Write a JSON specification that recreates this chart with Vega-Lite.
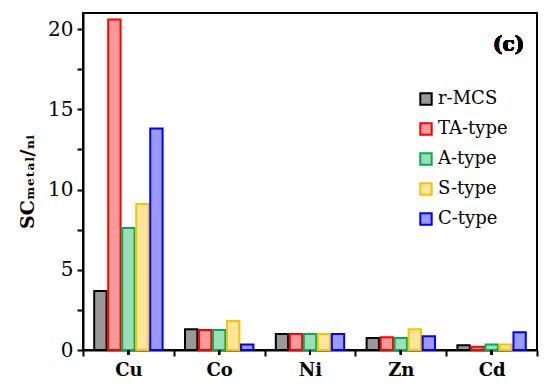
{
  "$schema": "https://vega.github.io/schema/vega-lite/v6.json",
  "width": 454,
  "height": 337,
  "autosize": {"type": "none"},
  "padding": {"left": 83, "top": 13, "right": 13, "bottom": 41},
  "background": "white",
  "config": {
    "view": {"stroke": "black", "strokeWidth": 2},
    "font": "DejaVu Serif"
  },
  "data": {
    "values": [
      {"metal": "Cu", "type": "r-MCS", "sc": 3.68},
      {"metal": "Cu", "type": "TA-type", "sc": 20.6},
      {"metal": "Cu", "type": "A-type", "sc": 7.6},
      {"metal": "Cu", "type": "S-type", "sc": 9.1},
      {"metal": "Cu", "type": "C-type", "sc": 13.8},
      {"metal": "Co", "type": "r-MCS", "sc": 1.3},
      {"metal": "Co", "type": "TA-type", "sc": 1.25},
      {"metal": "Co", "type": "A-type", "sc": 1.25},
      {"metal": "Co", "type": "S-type", "sc": 1.8},
      {"metal": "Co", "type": "C-type", "sc": 0.35},
      {"metal": "Ni", "type": "r-MCS", "sc": 1.0},
      {"metal": "Ni", "type": "TA-type", "sc": 1.0},
      {"metal": "Ni", "type": "A-type", "sc": 1.0},
      {"metal": "Ni", "type": "S-type", "sc": 1.0},
      {"metal": "Ni", "type": "C-type", "sc": 1.0},
      {"metal": "Zn", "type": "r-MCS", "sc": 0.75},
      {"metal": "Zn", "type": "TA-type", "sc": 0.8},
      {"metal": "Zn", "type": "A-type", "sc": 0.75},
      {"metal": "Zn", "type": "S-type", "sc": 1.3},
      {"metal": "Zn", "type": "C-type", "sc": 0.85},
      {"metal": "Cd", "type": "r-MCS", "sc": 0.3},
      {"metal": "Cd", "type": "TA-type", "sc": 0.2},
      {"metal": "Cd", "type": "A-type", "sc": 0.35},
      {"metal": "Cd", "type": "S-type", "sc": 0.35},
      {"metal": "Cd", "type": "C-type", "sc": 1.1}
    ]
  },
  "layer": [
    {
      "mark": {"type": "bar", "fillOpacity": 0.4, "strokeWidth": 2},
      "encoding": {
        "x": {
          "field": "metal", "type": "nominal", "sort": ["Cu", "Co", "Ni", "Zn", "Cd"],
          "scale": {"paddingInner": 0, "paddingOuter": 0},
          "axis": {
            "title": null, "labelAngle": 0, "labelFont": "DejaVu Serif", "labelFontWeight": "bold",
            "labelFontSize": 18, "labelColor": "black", "labelPadding": 5, "tickBand": "extent",
            "domainColor": "black", "domainWidth": 2, "tickColor": "black", "tickWidth": 2, "tickSize": 6
          }
        },
        "xOffset": {
          "field": "type", "type": "nominal",
          "sort": ["r-MCS", "TA-type", "A-type", "S-type", "C-type"],
          "scale": {"paddingInner": 0.12, "paddingOuter": 0.8}
        },
        "y": {
          "field": "sc", "type": "quantitative",
          "scale": {"domain": [0, 21], "nice": false},
          "axis": {
            "title": "SCₘₑₜₐₗ/ₙᵢ", "titleFont": "DejaVu Serif", "titleFontSize": 19, "titleFontWeight": "bold", "titleColor": "black", "titlePadding": 10,
            "values": [0, 2.5, 5, 7.5, 10, 12.5, 15, 17.5, 20],
            "labelExpr": "datum.value % 5 == 0 ? datum.label : ''",
            "labelFont": "DejaVu Serif", "labelFontSize": 20, "labelColor": "black", "labelPadding": 4,
            "grid": false, "domainColor": "black", "domainWidth": 2, "tickColor": "black", "tickWidth": 2, "tickSize": 6
          }
        },
        "fill": {
          "field": "type", "type": "nominal",
          "scale": {
            "domain": ["r-MCS", "TA-type", "A-type", "S-type", "C-type"],
            "range": ["#000000", "#ff0000", "#00b050", "#ffc000", "#0000ff"]
          },
          "legend": {
            "title": null, "orient": "none", "legendX": 334, "legendY": 77,
            "symbolType": "square", "symbolSize": 130, "symbolStrokeWidth": 2,
            "labelFont": "DejaVu Serif", "labelFontSize": 18, "labelColor": "black",
            "rowPadding": 10, "labelOffset": 3,
            "encode": {"symbols": {"update": {"fillOpacity": {"value": 0.4}}}}
          }
        },
        "stroke": {
          "field": "type", "type": "nominal",
          "scale": {
            "domain": ["r-MCS", "TA-type", "A-type", "S-type", "C-type"],
            "range": ["#000000", "#ff0000", "#00b050", "#ffc000", "#0000ff"]
          },
          "legend": null
        }
      }
    },
    {
      "mark": {"type": "rule", "color": "black", "strokeWidth": 2, "clip": false},
      "encoding": {
        "x": {"field": "metal", "type": "nominal", "sort": ["Cu", "Co", "Ni", "Zn", "Cd"]},
        "y": {"datum": 0, "type": "quantitative"},
        "y2": {"datum": -0.3}
      }
    },
    {
      "mark": {"type": "text", "font": "DejaVu Serif", "fontWeight": "bold", "fontSize": 20, "dx": 17, "color": "black"},
      "encoding": {
        "x": {"datum": "Cd", "type": "nominal"},
        "y": {"datum": 19.0, "type": "quantitative"},
        "text": {"value": "(c)"}
      }
    }
  ]
}
